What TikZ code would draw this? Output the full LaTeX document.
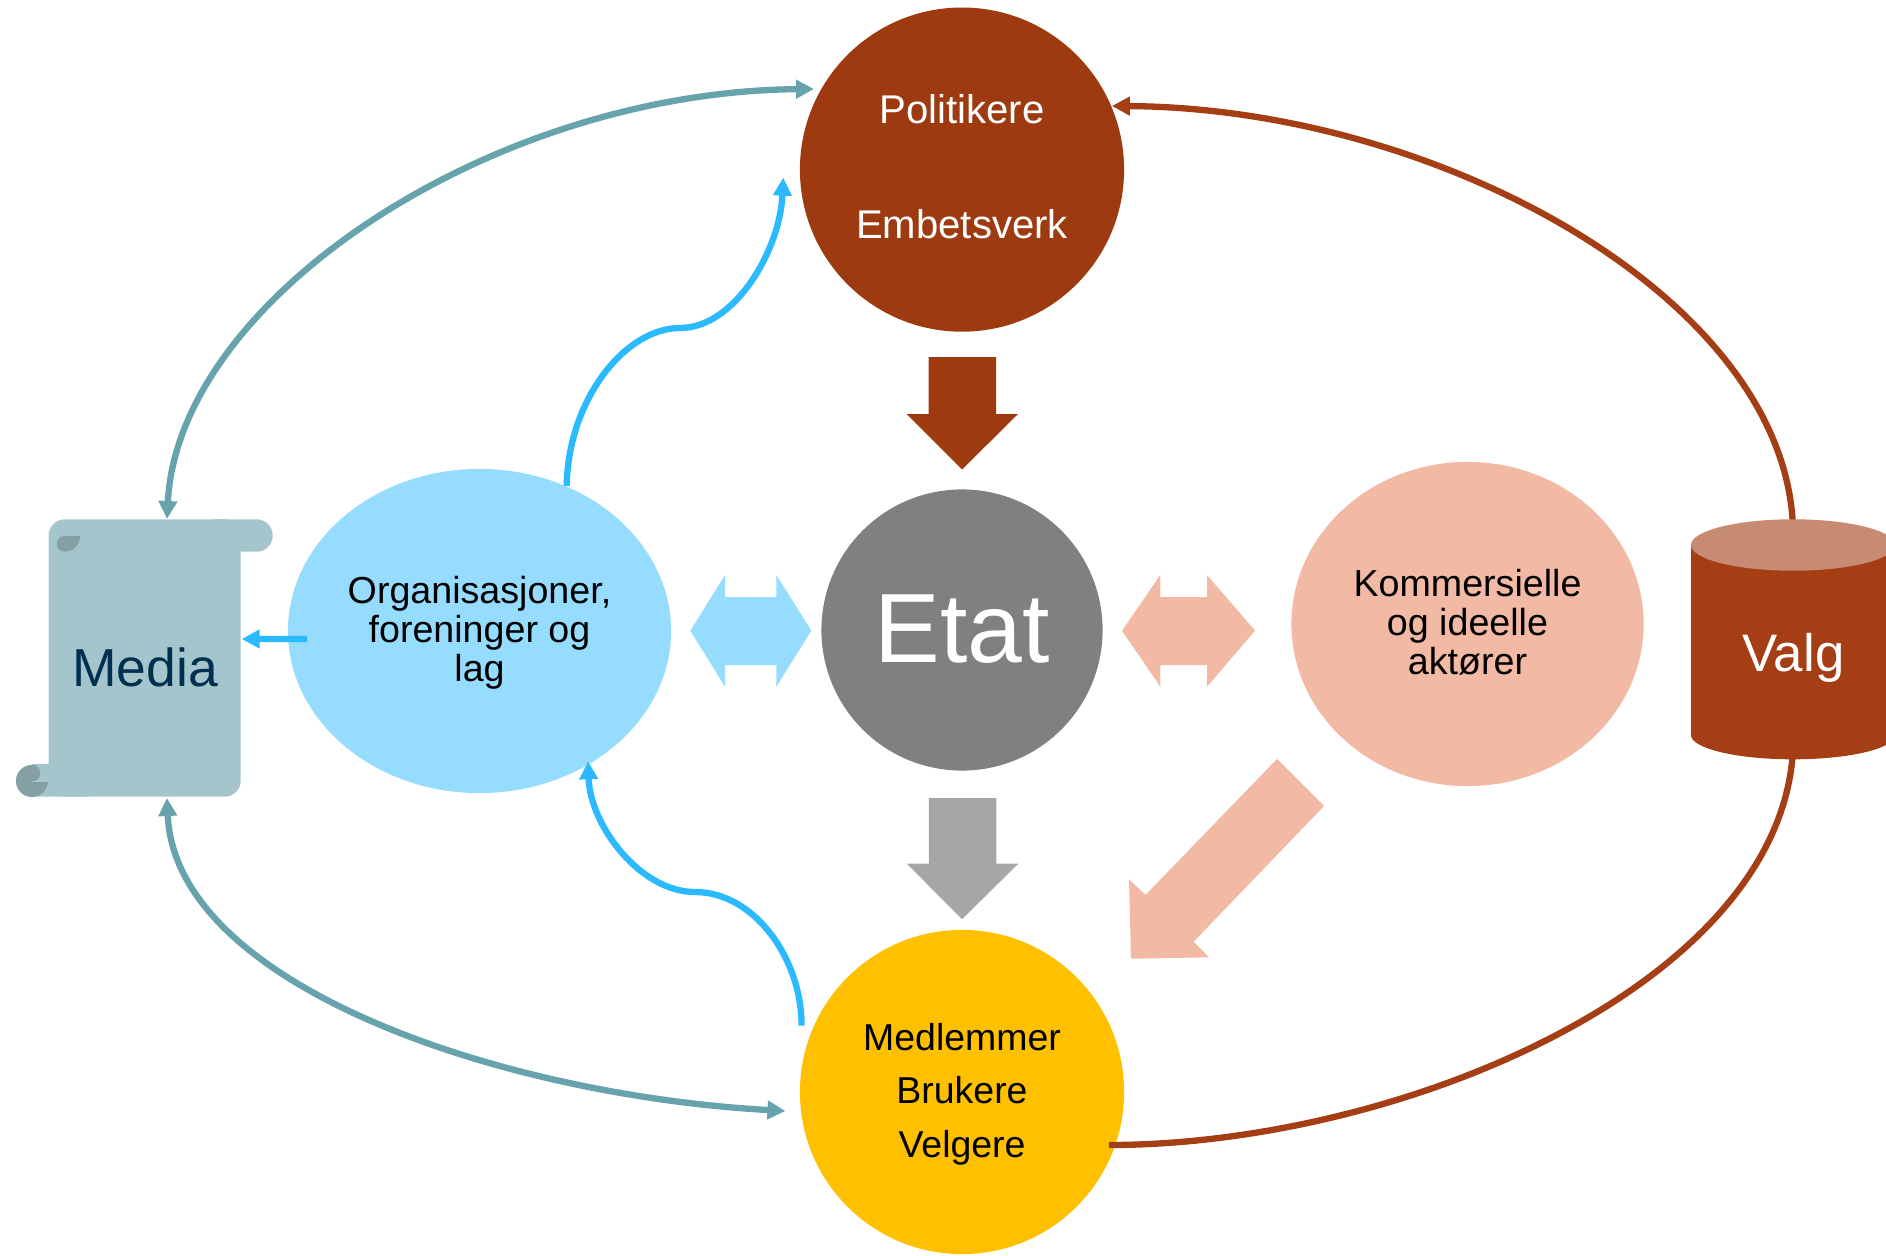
\documentclass[tikz,border=0pt]{standalone}
\usepackage{fontspec}
\setmainfont{Liberation Sans}
\usetikzlibrary{arrows.meta,shapes.geometric}
\definecolor{polbrown}{HTML}{9E3A10}
\definecolor{valgbrown}{HTML}{A53E14}
\definecolor{valgtop}{HTML}{C78A72}
\definecolor{orgblue}{HTML}{95DCFF}
\definecolor{lineblue}{HTML}{2BB9FF}
\definecolor{salmon}{HTML}{F2B9A4}
\definecolor{etatgrey}{HTML}{808080}
\definecolor{arrowgrey}{HTML}{A6A6A6}
\definecolor{medyellow}{HTML}{FFC000}
\definecolor{tealline}{HTML}{66A3AD}
\definecolor{mediafill}{HTML}{A4C5CC}
\definecolor{mediacurl}{HTML}{85A0A5}
\definecolor{mediatext}{HTML}{00304F}
\tikzset{
  actor/.style={circle, minimum size=3.24cm, inner sep=0pt, align=center},
  blob/.style={ellipse, minimum height=3.24cm, inner sep=0pt, align=center,
    font=\fontsize{10.7}{11.1}\selectfont},
  link/.style={line width=1.8pt},
  tip/.style={-{Triangle[length=1.8mm,width=1.8mm]}},
  tips/.style={{Triangle[length=1.8mm,width=1.8mm]}-{Triangle[length=1.8mm,width=1.8mm]}},
}
\begin{document}
\begin{tikzpicture}[x=0.01cm, y=-0.01cm]
  \useasboundingbox (0,0) rectangle (1886,1255);

  % sirkler og ellipser
  \node[actor, fill=polbrown, text=white, font=\fontsize{11.4}{32.7}\selectfont] (pol) at (962,169.6) {Politikere\\Embetsverk\rule[-1.6pt]{0pt}{0pt}};
  \node[actor, fill=medyellow, font=\fontsize{10.65}{15.2}\selectfont] (med) at (962,1092) {\rule{0pt}{9pt}Medlemmer\\Brukere\\Velgere};
  \node[circle, minimum size=2.81cm, inner sep=0pt, fill=etatgrey, text=white, text height=20pt, text depth=1.3pt, font=\fontsize{28}{32}\selectfont] (etat) at (962,630) {Etat};
  \node[blob, minimum width=3.83cm, fill=orgblue] (org) at (479.5,631) {\rule{0pt}{8.6pt}Organisasjoner,\\foreninger og\\lag};
  \node[blob, minimum width=3.52cm, fill=salmon] (kom) at (1467.5,624) {Kommersielle\\og ideelle\\aktører\rule[-1.2pt]{0pt}{0pt}};

  % endepunkter
  \coordinate (mediatop) at (167,519);
  \coordinate (mediabot) at (167,798);
  \coordinate (mediaright) at (241.7,639);
  \coordinate (valgupper) at (1793,530);
  \coordinate (valglower) at (1793,750);

  % blokkpiler
  \foreach \a/\b/\c/\col in {928.5/357/414/polbrown, 928.8/798/863.7/arrowgrey}
    \fill[\col] (\a,\b) -- (\a+67.5,\b) -- (\a+67.5,\c) -- (\a+89.5,\c) -- (962,\c+55.5) -- (\a-22,\c) -- (\a,\c) -- cycle;
  \foreach \l/\m/\n/\r/\col in {690.3/725/776.4/811.3/orgblue, 1122/1160.3/1207/1255/salmon}
    \fill[\col] (\l,630.7) -- (\m,575) -- (\m,597) -- (\n,597) -- (\n,575) -- (\r,630.7) -- (\n,686.7) -- (\n,665) -- (\m,665) -- (\m,686.7) -- cycle;
  \fill[salmon] (1277,759) -- (1324,806) -- (1193.6,941.7) -- (1209,957.3) -- (1131,958.7) -- (1129,879.3) -- (1145.4,895) -- cycle;

  % buede linjer
  \draw[link, tealline, tips] (mediatop) .. controls (178,300) and (490,92) .. (814,89);
  \draw[link, tealline, tips, shorten >=1.5mm] (mediabot) .. controls (175,985) and (500,1095) .. (med.187.8);
  \draw[link, valgbrown, tip] (valgupper) .. controls (1788,300) and (1440,108) .. (pol.23);
  \draw[link, valgbrown, shorten >=-0.7mm] (valglower) .. controls (1780,985) and (1400,1145) .. (med.-19);
  \draw[link, lineblue, tip] (org.59) .. controls (568,400) and (625,328) .. (680,328) .. controls (735,328) and (780,250) .. ([shift={(-1.6mm,-0.8mm)}]pol.west);
  \draw[link, lineblue, tip, shorten <=4.1mm, shorten >=-0.4mm] (med.171) .. controls (802,960) and (755,892) .. (695,892) .. controls (640,892) and (590,825) .. (org.-51);
  \draw[link, lineblue, tip, shorten <=-2mm] ([yshift=-0.08cm]org.west) -- (mediaright);

  % Media
  \fill[mediafill, rounded corners=1.6mm] (48.7,519.3) rectangle (240.7,796.7);
  \fill[mediafill, rounded corners=1.6mm] (200,519.3) rectangle (272.7,551.7);
  \fill[mediafill, rounded corners=1.6mm] (16,765) rectangle (100,796.7);
  \fill[mediacurl] (32,781) circle (0.16cm);
  \fill[mediafill] (32,764) rectangle (50,781.7);
  \fill[mediacurl] (32,773) circle (0.083cm);
  \fill[mediacurl] (64.7,536) -- (80,536) .. controls (80,545) and (73,551.7) .. (64.7,551.7) .. controls (60,551.7) and (56.7,548) .. (56.7,543.8) .. controls (56.7,539.5) and (60,536) .. (64.7,536) -- cycle;
  \node[anchor=base, text=mediatext, font=\fontsize{15.2}{18}\selectfont] (media) at (145,686.7) {Media};

  % Valg
  \fill[valgbrown] (1793,735) ellipse (1.02cm and 0.243cm);
  \fill[valgbrown] (1691,545) rectangle (1895,735);
  \fill[valgtop] (1793,545) ellipse (1.02cm and 0.257cm);
  \node[anchor=base, text=white, font=\fontsize{15}{18}\selectfont] (valg) at (1793.5,671.7) {Valg};
\end{tikzpicture}
\end{document}
